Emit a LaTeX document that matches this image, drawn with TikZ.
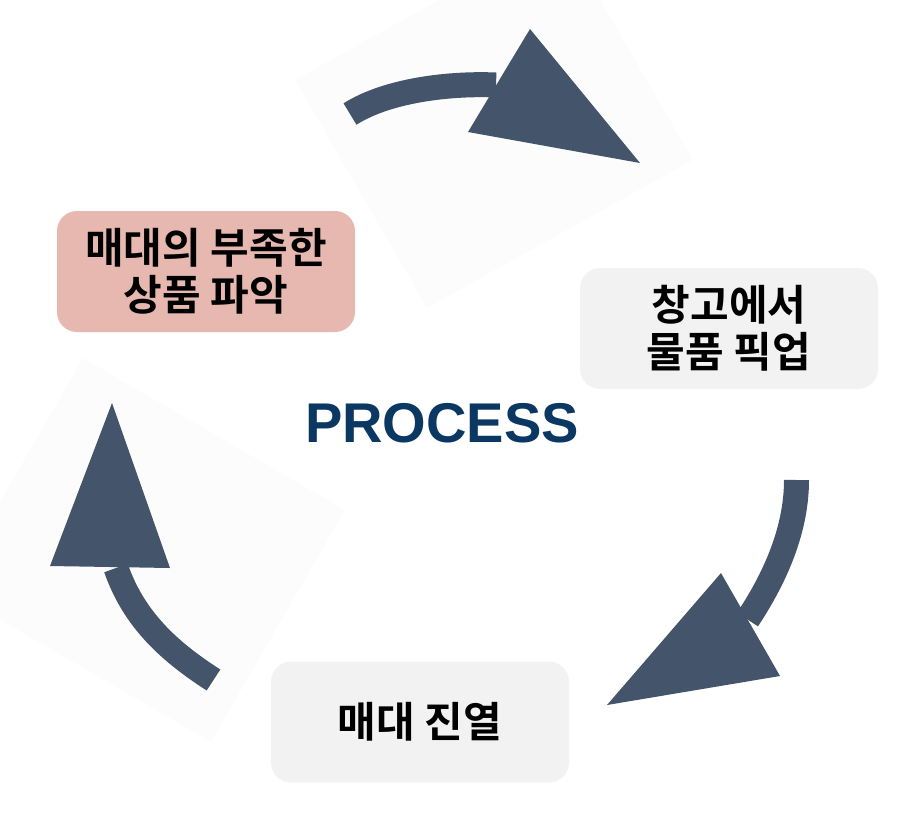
\documentclass[tikz,border=0pt]{standalone}
\usepackage{fontspec}
\setmainfont{Liberation Sans}
\newfontfamily\kr{Noto Sans CJK KR}[BoldFont={Noto Sans CJK KR Bold}]
\definecolor{arrowblue}{HTML}{44546A}
\definecolor{shelfpink}{HTML}{E6B8AF}
\definecolor{boxgray}{HTML}{F2F2F2}
\definecolor{processblue}{HTML}{0B3763}
\definecolor{backdrop}{HTML}{FCFCFC}
\begin{document}
\begin{tikzpicture}[x=1pt,y=-1pt,
	box/.style={rounded corners=20pt,minimum width=298pt,minimum height=121pt,
	align=center,font=\kr\bfseries\fontsize{42}{47}\selectfont},
	curvedarrow/.style={draw=arrowblue,line width=25pt},
	arrowtip/.style={fill=arrowblue}]
\useasboundingbox (0,0) rectangle (897,812);
\clip (0,0) rectangle (897,812);
% faint squares behind two arrows
\fill[backdrop] (295,80) -- (561,-68) -- (693,160) -- (427,308) -- cycle;
\fill[backdrop] (83,358) -- (345,510) -- (211,742) -- (-51,590) -- cycle;
% steps
\node[box,fill=shelfpink] (find) at (206,271.5) {매대의 부족한\\상품 파악};
\node[box,fill=boxgray] (pick) at (729,328.5) {창고에서\\물품 픽업};
\node[box,fill=boxgray] (shelve) at (420,722) {매대 진열};
\node[font=\bfseries\fontsize{56}{60}\selectfont,text=processblue] (process) at (442,423) {PROCESS};
% arrows
\draw[curvedarrow] (350,114) .. controls (388,90) and (450,83) .. (496,85);
\fill[arrowtip] (530,29) -- (640,163) -- (468,132) -- cycle;
\draw[curvedarrow] (796.5,480) .. controls (796.5,530) and (775,578) .. (747.5,619.5);
\fill[arrowtip] (721,573) -- (780,676) -- (607,705) -- cycle;
\draw[curvedarrow] (213.5,680) .. controls (170,652) and (134,620) .. (116,568);
\fill[arrowtip] (112,403) -- (170,568) -- (50,566) -- cycle;
\end{tikzpicture}
\end{document}
